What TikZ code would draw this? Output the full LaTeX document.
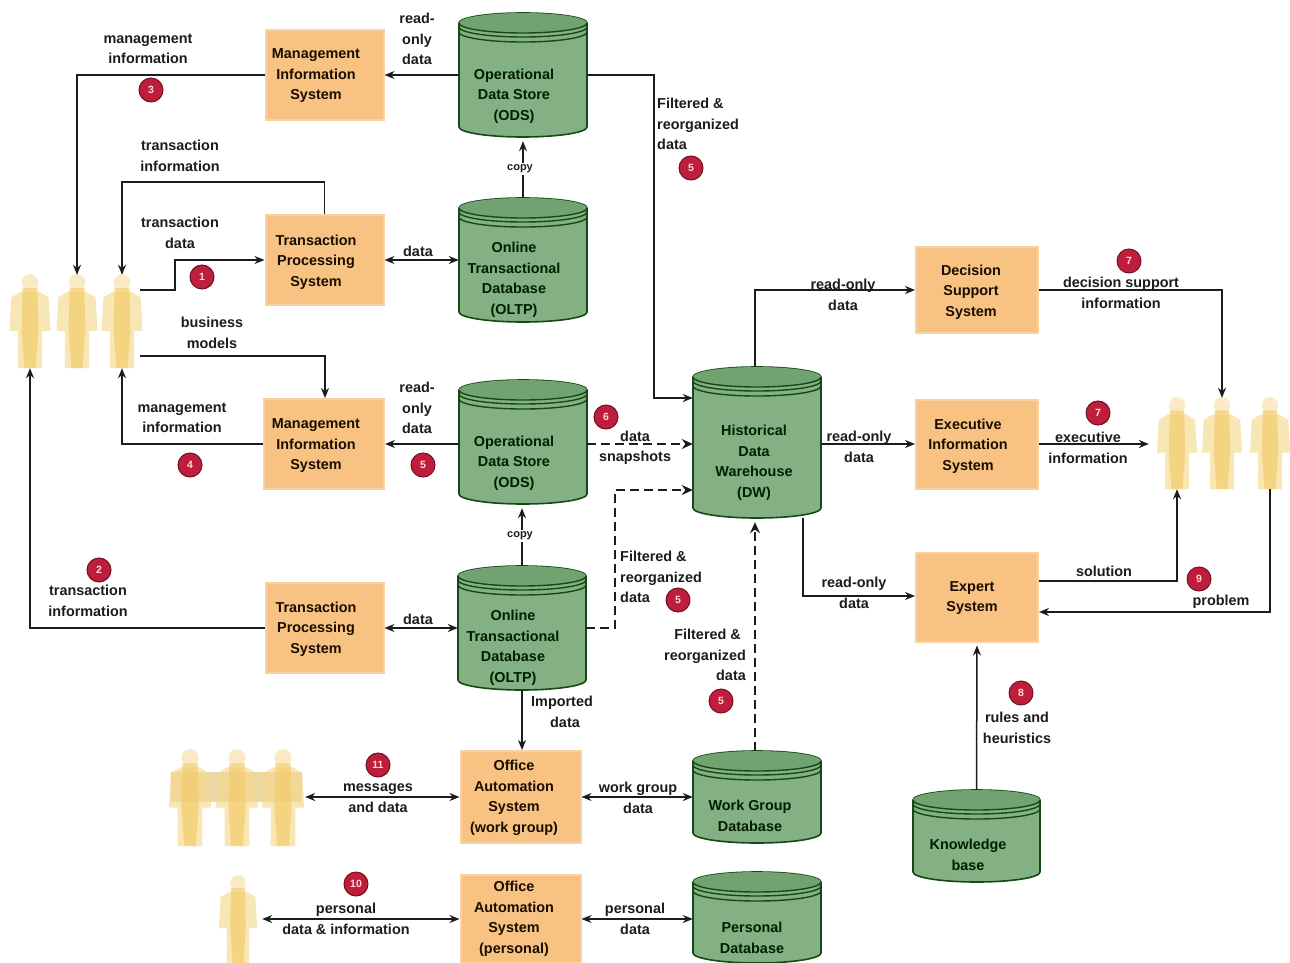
\documentclass[tikz,border=0pt]{standalone}
\usepackage{fontspec}
\setmainfont{Liberation Sans}
\usetikzlibrary{arrows.meta,calc}
\definecolor{boxor}{HTML}{F8C382}
\definecolor{cylgr}{HTML}{84B184}
\definecolor{cyltop}{HTML}{70A272}
\definecolor{inkc}{HTML}{1C1C1C}
\definecolor{badge}{HTML}{BE1E3C}
\definecolor{figy}{HTML}{F6D98E}
\definecolor{figc}{HTML}{F3CB6C}
\tikzset{
  x=1pt,y=-1pt,
  txt/.style={font=\bfseries\fontsize{14.4}{20.5}\selectfont,text=inkc,align=center,inner sep=0pt},
  sysbox/.style={fill=boxor,draw=boxor!75!white,line width=2pt,inner sep=0pt},
  systext/.style={txt,text=black!90!orange,yshift=-1pt},
  cylarea/.style={txt,draw=none,inner sep=0pt,text=black!88!green},
  cyltext/.style={cylarea,yshift=-1pt},
  lbl/.style={txt,yshift=-1pt},
  lbll/.style={txt,align=left,anchor=west,yshift=-1pt},
  lblr/.style={txt,align=right,anchor=east,yshift=-1pt},
  copylbl/.style={txt,fill=white,inner sep=1.5pt,font=\bfseries\fontsize{11}{12}\selectfont},
  num/.style={circle,fill=badge,draw=badge!60!black,line width=1pt,minimum size=24pt,inner sep=0pt,
     font=\bfseries\fontsize{10.5}{10}\selectfont,text=white!85!red},
  link/.style={draw=inkc,line width=1.5pt,-{Stealth[length=10pt,width=8pt]}},
  both/.style={draw=inkc,line width=1.5pt,{Stealth[length=10pt,width=8pt]}-{Stealth[length=10pt,width=8pt]}},
  dlink/.style={draw=inkc,line width=2.8pt,dash pattern=on 9pt off 5pt,-{Stealth[length=11pt,width=10pt]}},
  personarea/.style={draw=none,inner sep=0pt},
}
% \sysb{name}{cx}{cy}{w}{h}{tx}{ty}{text}
\newcommand{\sysb}[8]{%
  \node[sysbox,minimum width=#4 pt,minimum height=#5 pt] (#1) at (#2,#3) {};
  \node[systext] at (#6,#7) {#8};
}
% \cyl{name}{left}{top}{right}{bottom}{tx}{ty}{text}
\newcommand{\cyl}[8]{%
  \pgfmathsetmacro{\cxx}{(#2+#4)/2}\pgfmathsetmacro{\cyy}{(#3+#5)/2}%
  \pgfmathsetmacro{\rxx}{(#4-#2)/2}%
  \pgfmathsetmacro{\wdd}{#4-#2}\pgfmathsetmacro{\htt}{#5-#3}%
  \draw[fill=cylgr,draw=inkc!80!green,line width=1.6pt]
     (#2,#3+10) -- (#2,#5-10) arc[start angle=180,delta angle=180,x radius=\rxx,y radius=-10]
     -- (#4,#3+10) arc[start angle=0,delta angle=180,x radius=\rxx,y radius=-10] -- cycle;
  \fill[cyltop] (\cxx,#3+10) ellipse[x radius=\rxx,y radius=10];
  \draw[draw=inkc!80!green,line width=1.4pt] (#2,#3+10) arc[start angle=180,delta angle=180,x radius=\rxx,y radius=-10];
  \draw[draw=inkc!80!green,line width=1.4pt] (#2,#3+14) arc[start angle=180,delta angle=180,x radius=\rxx,y radius=-10];
  \draw[draw=inkc!80!green,line width=1.4pt] (#2,#3+19) arc[start angle=180,delta angle=180,x radius=\rxx,y radius=-10];
  \node[cylarea,minimum width=\wdd pt,minimum height=\htt pt,text depth=0pt] (#1) at (\cxx,\cyy) {};
  \node[cyltext] at (#6,#7) {#8};
}
% \person{name}{cx}{top}{bottom}
\newcommand{\person}[4]{%
  \pgfmathsetmacro{\hgt}{#4-#3}%
  \begin{scope}[shift={(#2,#3)},x=\hgt/100*1pt,y=-\hgt/100*1pt]
    \fill[figy,opacity=.5] (0,8) ellipse[x radius=9,y radius=9];
    \fill[figy,opacity=.65] (-20,24) -- (-10,18) -- (10,18) -- (20,24) -- (22,60) -- (13,60) -- (13,100) -- (-13,100) -- (-13,60) -- (-22,60) -- cycle;
    \fill[figc,opacity=.7] (-8,14) -- (8,14) -- (9,60) -- (6,100) -- (-6,100) -- (-9,60) -- cycle;
  \end{scope}
  \node[personarea,minimum width=36pt,minimum height=\hgt pt] (#1) at (#2,{(#3+#4)/2}) {};
}
\begin{document}
\begin{tikzpicture}
\useasboundingbox (0,0) rectangle (1290,963);
\fill[white] (0,0) rectangle (1290,963);

% people
\person{pa}{30}{275}{368}
\person{pb}{77}{275}{368}
\person{pc}{122}{275}{368}
\person{ra}{1177}{398}{489}
\person{rb}{1222}{398}{489}
\person{rc}{1270}{398}{489}
\fill[figy!85!gray,opacity=.75] (171,772) rectangle (302,802);
\person{ma}{190}{750}{846}
\person{mb}{237}{750}{846}
\person{mc}{283}{750}{846}
\person{sa}{238}{876}{963}

% systems
\sysb{mis1}{324.5}{75}{118}{90}{316}{75}{Management\\Information\\System}
\sysb{tps1}{324.5}{260}{118}{90}{316}{261}{Transaction\\Processing\\System}
\sysb{mis2}{324}{444}{120}{90}{316}{445}{Management\\Information\\System}
\sysb{tps2}{324.5}{628}{118}{90}{316}{628}{Transaction\\Processing\\System}
\sysb{oaw}{520.5}{797}{120}{92}{514}{797}{Office\\Automation\\System\\(work group)}
\sysb{oap}{520.5}{919}{120}{88}{514}{918}{Office\\Automation\\System\\(personal)}
\sysb{dss}{977}{290}{122}{86}{971}{291}{Decision\\Support\\System}
\sysb{eis}{977}{444}{122}{89}{968}{445}{Executive\\Information\\System}
\sysb{es}{977}{597}{122}{89}{972}{597}{Expert\\System}

% data stores
\cyl{ods1}{459}{13}{587}{137}{514}{95}{Operational\\Data Store\\(ODS)}
\cyl{oltp1}{459}{198}{587}{322}{514}{279}{Online\\Transactional\\Database\\(OLTP)}
\cyl{ods2}{459}{380}{587}{504}{514}{462}{Operational\\Data Store\\(ODS)}
\cyl{oltp2}{458}{566}{586}{690}{513}{647}{Online\\Transactional\\Database\\(OLTP)}
\cyl{dw}{693}{367}{821}{518}{754}{462}{Historical\\Data\\Warehouse\\(DW)}
\cyl{wg}{693}{751}{821}{843}{750}{815}{Work Group\\Database}
\cyl{pers}{693}{872}{821}{963}{752}{937}{Personal\\Database}
\cyl{kb}{913}{790}{1040}{882}{968}{854}{Knowledge\\base}

% free-end helpers
\coordinate (t1) at (77,75);
\coordinate (t2) at (122,182);
\coordinate (t3) at (175,290);
\coordinate (t4) at (175,260);
\coordinate (t5) at (325,356);
\coordinate (t6) at (122,444);
\coordinate (t7) at (30,628);
\coordinate (t8) at (654,75);
\coordinate (t9) at (654,398);
\coordinate (t10) at (615,628);
\coordinate (t11) at (615,490);
\coordinate (t12) at (755,290);
\coordinate (t13) at (1222,290);
\coordinate (t14) at (803,596);
\coordinate (t15) at (1177,581);
\coordinate (t16) at (1270,612);

% connectors
\draw[link] (mis1.west) -- (t1) -- (pb.north);
\draw[link] (ods1.west) -- (mis1.east);
\draw[link] (ods1.east) -- (t8) -- (t9) -- (dw.west |- t9);
\draw[link] (oltp1.north) -- ([yshift=-4pt]ods1.south);
\draw[link] (tps1.north) |- (t2) -- (pc.north);
\draw[link] (pc.east |- t3) -- (t3) -- (t4) -- (tps1.west);
\draw[both] (tps1.east) -- (oltp1.west);
\draw[link] (pc.east |- t5) -- (t5) -- (mis2.north -| t5);
\draw[link] (mis2.west) -- (t6) -- (pc.south);
\draw[link] (ods2.west |- mis2.east) -- (mis2.east);
\draw[link] (tps2.west) -- (t7) -- (pa.south);
\draw[link] (oltp2.north) -- ([yshift=-4pt]ods2.south -| oltp2.north);
\draw[both] (tps2.east) -- (oltp2.west);
\draw[dlink] (ods2.east |- mis2.east) -- (dw.west |- mis2.east);
\draw[dlink] (oltp2.east) -- (t10) -- (t11) -- (dw.west |- t11);
\draw[link] (oltp2.south) -- (oltp2.south |- oaw.north);
\draw[dlink] ([xshift=-2pt]wg.north) -- ([xshift=-2pt,yshift=-4pt]dw.south);
\draw[both] (mc.east |- oaw.west) ++(4,0) -- (oaw.west);
\draw[both] (oaw.east) -- (wg.west |- oaw.east);
\draw[both] (sa.east |- oap.west) ++(6,0) -- (oap.west);
\draw[both] (oap.east) -- (pers.west |- oap.east);
\draw[link] (dw.north -| t12) -- (t12) -- (dss.west);
\draw[link] (dss.east) -- (t13) -- (rb.north);
\draw[link] (dw.east |- eis.west) -- (eis.west);
\draw[link] (eis.east) -- ([xshift=-10pt]ra.west |- eis.east);
\draw[link] (dw.south -| t14) -- (t14) -- (es.west |- t14);
\draw[link] (es.east |- t15) -- (t15) -- (ra.south);
\draw[link] (rc.south) -- (t16) -- (es.east |- t16);
\draw[link] (kb.north) -- ([yshift=-3pt]es.south);

% labels
\node[lbl] (l1) at (148,48) {management\\information};
\node[lbl] (l2) at (417,38) {read-\\only\\data};
\node[lbl] (l3) at (180,155) {transaction\\information};
\node[lbl] (l4) at (180,232) {transaction\\data};
\node[lbl] (l5) at (418,250) {data};
\node[lbl] (l6) at (212,332) {business\\models};
\node[lbl] (l7) at (182,417) {management\\information};
\node[lbl] (l8) at (417,407) {read-\\only\\data};
\node[lbl] (l9) at (88,600) {transaction\\information};
\node[lbl] (l10) at (418,618) {data};
\node[copylbl] (l11) at (520,169) {copy};
\node[copylbl] (l12) at (520,536) {copy};
\node[lbl] (l13) at (635,447) {data\\snapshots};
\node[lbll] (l14) at (657,123) {Filtered \&\\reorganized\\data};
\node[lbll] (l15) at (620,576) {Filtered \&\\reorganized\\data};
\node[lblr] (l16) at (746,654) {Filtered \&\hspace*{5pt}\\reorganized\hspace*{8pt}\\data};
\node[lbl,align=right,anchor=north east] (l17) at (593,695) {Imported\\data\hspace*{13pt}};
\node[lbl] (l18) at (378,797) {messages\\and data};
\node[lbl] (l19) at (638,797) {work group\\data};
\node[lbl] (l20) at (346,918) {personal\\data \& information};
\node[lbl] (l21) at (635,918) {personal\\data};
\node[lbl] (l22) at (843,294) {read-only\\data};
\node[lbl] (l23) at (859,446) {read-only\\data};
\node[lbl] (l24) at (854,592) {read-only\\data};
\node[lbl] (l25) at (1121,292) {decision support\\information};
\node[lbl] (l26) at (1088,447) {executive\\information};
\node[lbl] (l27) at (1104,570) {solution};
\node[lbl] (l28) at (1221,601) {problem};
\node[lbl] (l29) at (1017,727) {rules and\\heuristics};

% badges
\node[num] (b1) at (151,90) {3};
\node[num] (b2) at (202,277) {1};
\node[num] (b3) at (190,465) {4};
\node[num] (b4) at (423,465) {5};
\node[num] (b5) at (606,417) {6};
\node[num] (b6) at (691,168) {5};
\node[num] (b7) at (99,570) {2};
\node[num] (b8) at (678,600) {5};
\node[num] (b9) at (721,701) {5};
\node[num] (b10) at (1129,261) {7};
\node[num] (b11) at (1098,413) {7};
\node[num] (b12) at (1199,579) {9};
\node[num] (b13) at (1021,693) {8};
\node[num] (b14) at (378,765) {11};
\node[num] (b15) at (356,884) {10};
\end{tikzpicture}
\end{document}
